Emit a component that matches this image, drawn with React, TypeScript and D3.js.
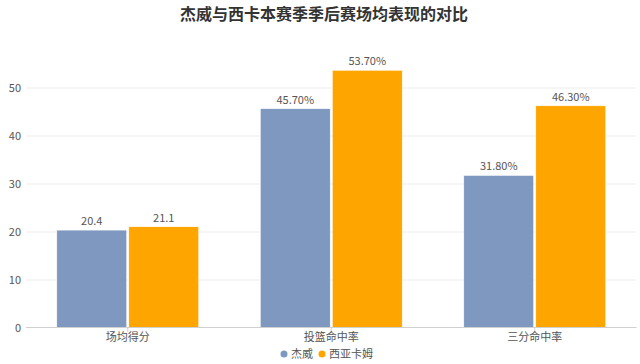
import React from "react";
import * as d3 from "d3";

const categories = ["场均得分", "投篮命中率", "三分命中率"];
const seriesNames = ["杰威", "西亚卡姆"];
const vanVleet = [20.4, 45.7, 31.8];
const siakam = [21.1, 53.7, 46.3];
const labelsVanVleet = ["20.4", "45.70%", "31.80%"];
const labelsSiakam = ["21.1", "53.70%", "46.30%"];
const yTicks = [0, 10, 20, 30, 40, 50];
const colors = ["#7F98C0", "#FFA500"];

const W = 640;
const H = 364;
const left = 26;
const right = 636.5;
const top = 40;
const bottom = 328;
const FONT = "'Noto Sans CJK SC', 'Noto Sans', sans-serif";

export default function App() {
  const x = d3.scaleBand<string>().domain(categories).range([left, right]).paddingInner(0).paddingOuter(0);
  const y = d3.scaleLinear().domain([0, 60]).range([bottom, top]);
  const inner = d3.scaleBand<number>().domain([0, 1]).range([30.75, x.bandwidth() - 30.75]).paddingInner(0.028);
  const series = [vanVleet, siakam];
  const labels = [labelsVanVleet, labelsSiakam];

  return (
    <svg width={W} height={H} style={{ position: "absolute", left: 0, top: 0, background: "#fff" }} fontFamily={FONT}>
      <text x={324} y={20} textAnchor="middle" fontSize={16} fontWeight="bold" fill="#333">
        杰威与西卡本赛季季后赛场均表现的对比
      </text>
      {yTicks.map((t) => (
        <g key={t}>
          {t > 0 && <line x1={left} x2={right} y1={y(t)} y2={y(t)} stroke="#EDEDED" strokeWidth={1} />}
          <text x={21} y={y(t)} dy="0.35em" textAnchor="end" fontSize={11} fill="#555">
            {t}
          </text>
        </g>
      ))}
      {categories.map((c, i) => (
        <g key={c} transform={`translate(${x(c)},0)`}>
          {series.map((s, j) => {
            const bx = inner(j)!;
            const bw = inner.bandwidth();
            return (
              <g key={j}>
                <rect x={bx} y={y(s[i])} width={bw} height={bottom - y(s[i])} fill={colors[j]} stroke="#fff" strokeWidth={0.6} />
                <text x={bx + bw / 2} y={y(s[i]) - 5} textAnchor="middle" fontSize={11} fill="#555">
                  {labels[j][i]}
                </text>
              </g>
            );
          })}
        </g>
      ))}
      <line x1={left} x2={right} y1={bottom - 0.5} y2={bottom - 0.5} stroke="#D0D0D0" strokeWidth={1} />
      {categories.map((c) => {
        const cx = x(c)! + x.bandwidth() / 2;
        return (
          <g key={c}>
            <line x1={cx} x2={cx} y1={bottom} y2={bottom + 4} stroke="#D0D0D0" />
            <text x={cx} y={341} textAnchor="middle" fontSize={11} fill="#555">
              {c}
            </text>
          </g>
        );
      })}
      {seriesNames.map((n, j) => {
        const lx = [284, 322][j];
        return (
          <g key={n}>
            <circle cx={lx} cy={354} r={3.5} fill={colors[j]} />
            <text x={lx + 7} y={354} dy="0.35em" fontSize={11} fill="#555">
              {n}
            </text>
          </g>
        );
      })}
    </svg>
  );
}
